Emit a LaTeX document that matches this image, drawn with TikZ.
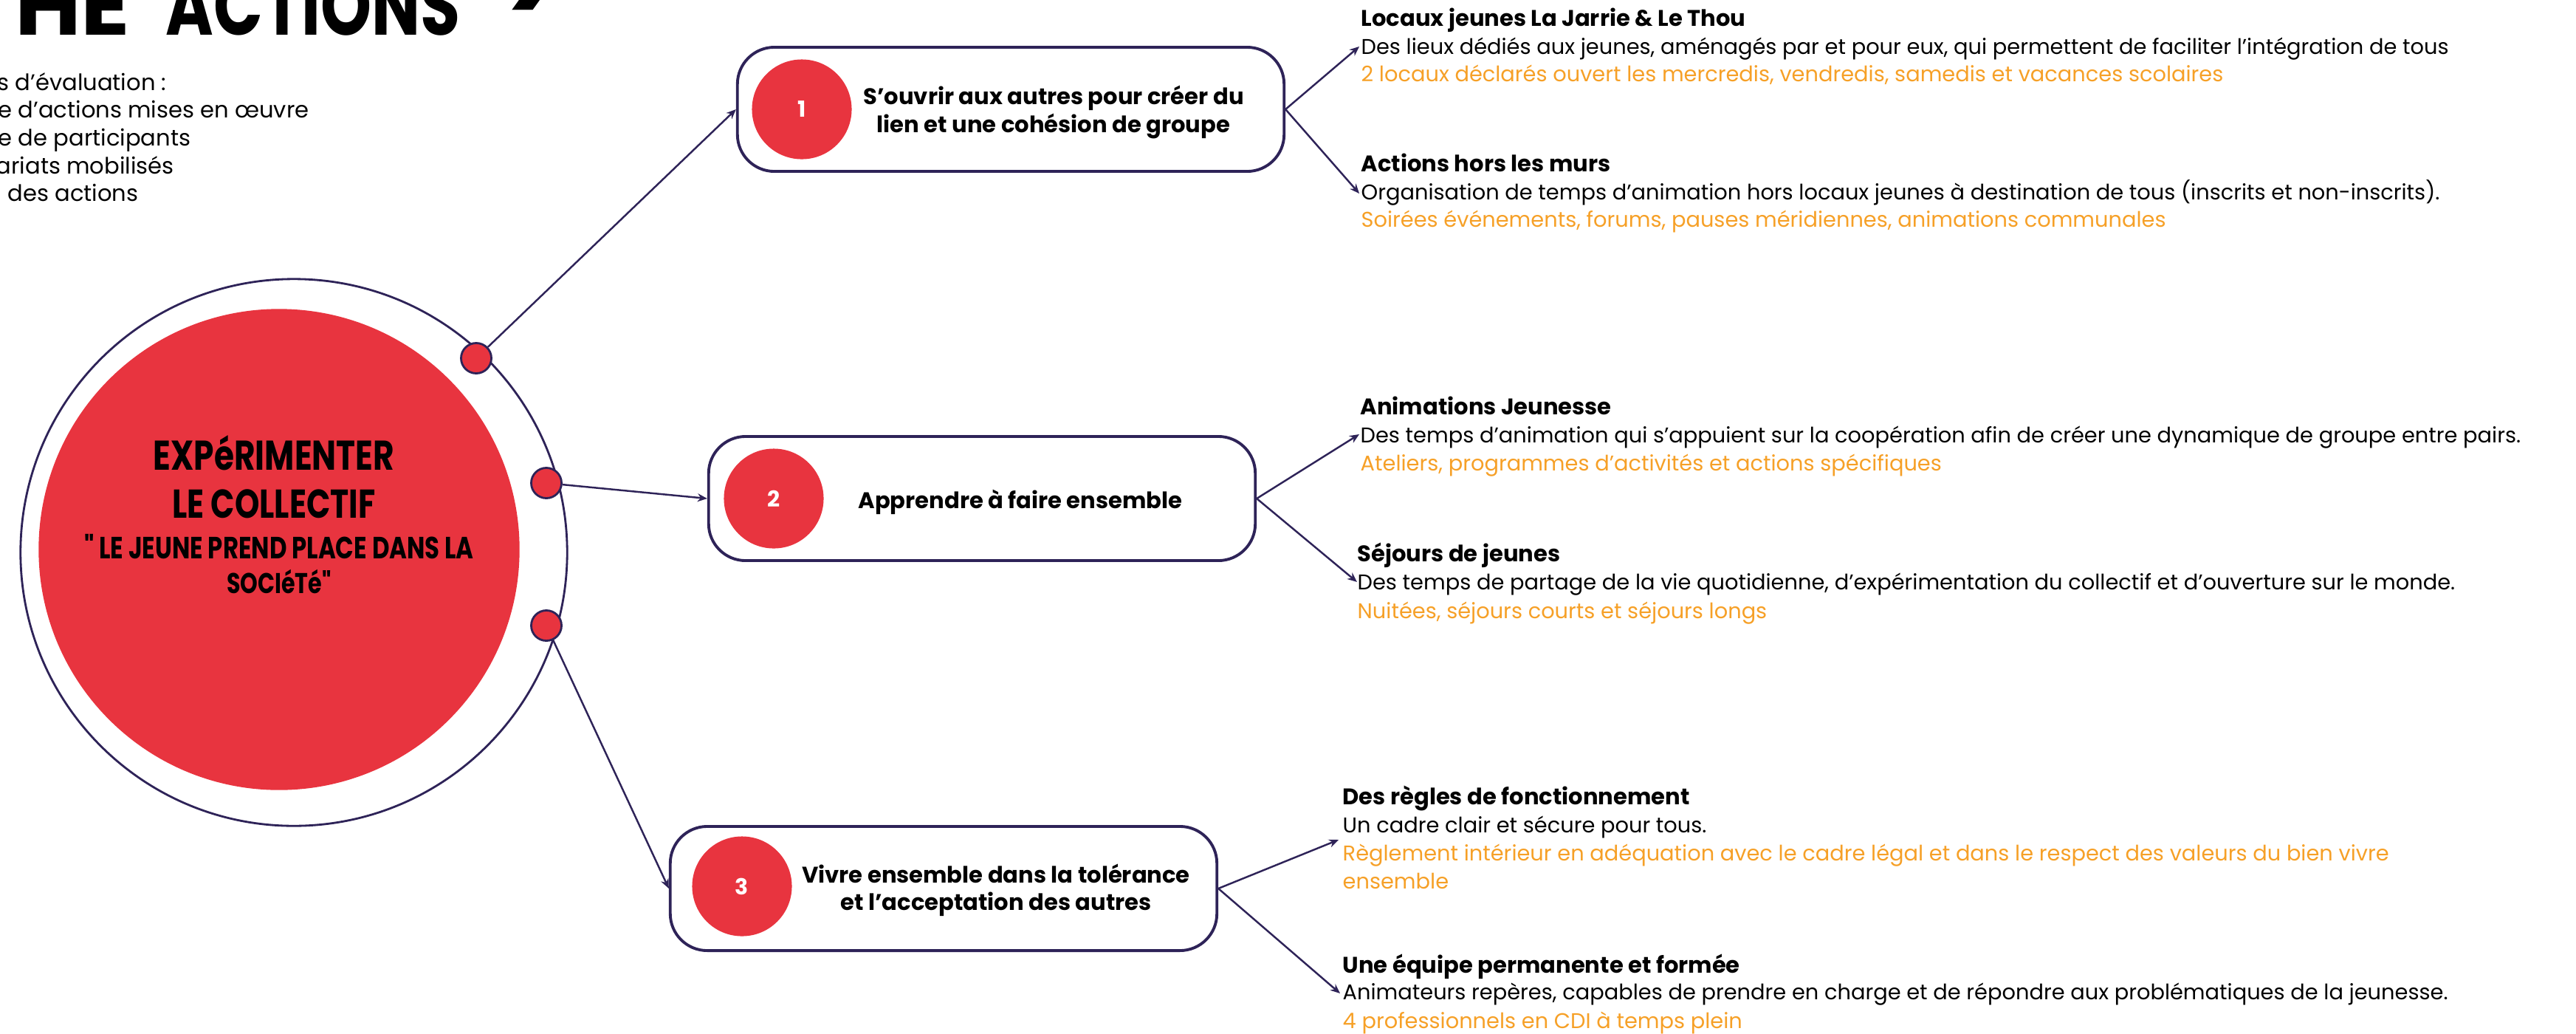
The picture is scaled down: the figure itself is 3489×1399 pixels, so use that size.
\documentclass[tikz,border=0pt]{standalone}
\usepackage{fontspec}
\setmainfont{Poppins}
\newfontfamily\brushfont{Poppins}[FakeStretch=0.78]
\usetikzlibrary{shapes.geometric, arrows.meta}

\definecolor{collred}{HTML}{E8343F}
\definecolor{inkline}{HTML}{2E2358}
\definecolor{noteorange}{HTML}{F6A027}

\begin{document}
\begin{tikzpicture}[x=0.01cm, y=-0.01cm]

% Define styles
\tikzstyle{ringline}=[draw=inkline, line width=0.8pt, circle, inner sep=0pt]
\tikzstyle{reddot}=[draw=inkline, line width=0.8pt, fill=collred, circle, minimum size=0.41cm, inner sep=0pt]
\tikzstyle{actionbox}=[draw=inkline, line width=1.1pt, rounded corners=0.5cm, minimum width=7.4cm, minimum height=1.68cm]
\tikzstyle{numdisc}=[circle, fill=collred, minimum size=1.35cm, inner sep=0pt, text=white, font=\bfseries\fontsize{8.5}{10}\selectfont]
\tikzstyle{boxtext}=[align=center, inner sep=0pt, font=\bfseries\fontsize{8.7}{10.6}\selectfont]
\tikzstyle{linkarrow}=[draw=inkline, line width=0.7pt, -{Stealth[length=1.3mm, width=1.1mm]}]
\tikzstyle{itemhead}=[anchor=base west, inner sep=0pt, font=\bfseries\fontsize{8.7}{10}\selectfont]
\tikzstyle{itembody}=[anchor=base west, inner sep=0pt, font=\fontsize{8.2}{10}\selectfont]
\tikzstyle{itemnote}=[itembody, text=noteorange]
\tikzstyle{critline}=[itembody, font=\fontsize{8.7}{10}\selectfont]
\tikzstyle{maintext}=[anchor=base, inner sep=0pt, font=\brushfont\bfseries]

% Frame
\useasboundingbox (0,0) rectangle (3489,1399);
\clip (0,0) rectangle (3489,1399);

% Title and criteria (cut by the frame)
\node[anchor=base east, inner sep=0pt, font=\brushfont\bfseries\fontsize{32}{32}\selectfont] (title) at (624,47)
  {\scalebox{1.4}[1]{HE}\hspace{0.3cm} ACTIONS\rlap{\hspace{0.62cm}\raisebox{0.12cm}{\fontsize{48}{48}\selectfont >}}};
\node[critline] (crit1) at (-4,122) {s d’évaluation :};
\node[critline] (crit2) at (-3,159) {e d’actions mises en œuvre};
\node[critline] (crit3) at (-3,197) {e de participants};
\node[critline] (crit4) at (-6,235) {ariats mobilisés};
\node[critline] (crit5) at (10,272) {des actions};

% Central disc
\node[ringline, minimum size=7.40cm] (ring) at (398,748) {};
\node[circle, fill=collred, minimum size=6.51cm, inner sep=0pt] (core) at (378,744) {};
\node[maintext, font=\brushfont\bfseries\fontsize{16}{16}\selectfont] (main1) at (371,636) {EXPéRIMENTER};
\node[maintext, font=\brushfont\bfseries\fontsize{15.5}{15.5}\selectfont] (main2) at (371,701) {LE COLLECTIF};
\node[maintext, font=\brushfont\bfseries\fontsize{11.8}{11.8}\selectfont] (main3) at (378,756) {" LE JEUNE PREND PLACE DANS LA};
\node[maintext, font=\brushfont\bfseries\fontsize{11}{11}\selectfont] (main4) at (378,803) {SOCIéTé"};

\node[reddot] (dot1) at (645,485) {};
\node[reddot] (dot2) at (740,654) {};
\node[reddot] (dot3) at (740,847) {};

% Action boxes
\node[actionbox] (box1) at (1369,148) {};
\node[actionbox] (box2) at (1330,675) {};
\node[actionbox] (box3) at (1278,1203) {};
\node[numdisc] (num1) at (1086,148) {1};
\node[numdisc] (num2) at (1048,675) {2};
\node[numdisc] (num3) at (1005,1200) {3};
\node[boxtext] (txt1) at (1427,152) {S’ouvrir aux autres pour créer du\\lien et une cohésion de groupe};
\node[boxtext] (txt2) at (1382,680) {Apprendre à faire ensemble};
\node[boxtext] (txt3) at (1349,1205) {Vivre ensemble dans la tolérance\\et l’acceptation des autres};

\draw[linkarrow] (dot1) -- (box1.west);
\draw[linkarrow] (dot2) -- (box2.west);
\draw[linkarrow] (dot3) -- (box3.west);

% Details of each action
\coordinate (tip1) at (1841,63);
\coordinate (tip2) at (1841,262);
\coordinate (tip3) at (1841,588);
\coordinate (tip4) at (1838,788);
\coordinate (tip5) at (1813,1137);
\coordinate (tip6) at (1815,1345);

\node[itemhead] (head1) at (1843,35) {Locaux jeunes La Jarrie \& Le Thou};
\node[itembody] (body1) at (1843,73) {Des lieux dédiés aux jeunes, aménagés par et pour eux, qui permettent de faciliter l’intégration de tous};
\node[itemnote] (note1) at (1843,110) {2 locaux déclarés ouvert les mercredis, vendredis, samedis et vacances scolaires};

\node[itemhead] (head2) at (1843,232) {Actions hors les murs};
\node[itembody] (body2) at (1843,270) {Organisation de temps d’animation hors locaux jeunes à destination de tous (inscrits et non-inscrits).};
\node[itemnote] (note2) at (1843,307) {Soirées événements, forums, pauses méridiennes, animations communales};

\node[itemhead] (head3) at (1842,561) {Animations Jeunesse};
\node[itembody] (body3) at (1842,599) {Des temps d’animation qui s’appuient sur la coopération afin de créer une dynamique de groupe entre pairs.};
\node[itemnote] (note3) at (1842,637) {Ateliers, programmes d’activités et actions spécifiques};

\node[itemhead] (head4) at (1838,760) {Séjours de jeunes};
\node[itembody] (body4) at (1838,798) {Des temps de partage de la vie quotidienne, d’expérimentation du collectif et d’ouverture sur le monde.};
\node[itemnote] (note4) at (1838,837) {Nuitées, séjours courts et séjours longs};

\node[itemhead] (head5) at (1818,1089) {Des règles de fonctionnement};
\node[itembody] (body5) at (1818,1127) {Un cadre clair et sécure pour tous.};
\node[itemnote] (note5) at (1818,1165) {Règlement intérieur en adéquation avec le cadre légal et dans le respect des valeurs du bien vivre};
\node[itemnote] (note5b) at (1818,1203) {ensemble};

\node[itemhead] (head6) at (1818,1317) {Une équipe permanente et formée};
\node[itembody] (body6) at (1818,1353) {Animateurs repères, capables de prendre en charge et de répondre aux problématiques de la jeunesse.};
\node[itemnote] (note6) at (1818,1392) {4 professionnels en CDI à temps plein};

\draw[linkarrow] (box1.east) -- (tip1);
\draw[linkarrow] (box1.east) -- (tip2);
\draw[linkarrow] (box2.east) -- (tip3);
\draw[linkarrow] (box2.east) -- (tip4);
\draw[linkarrow] (box3.east) -- (tip5);
\draw[linkarrow] (box3.east) -- (tip6);

\end{tikzpicture}
\end{document}
